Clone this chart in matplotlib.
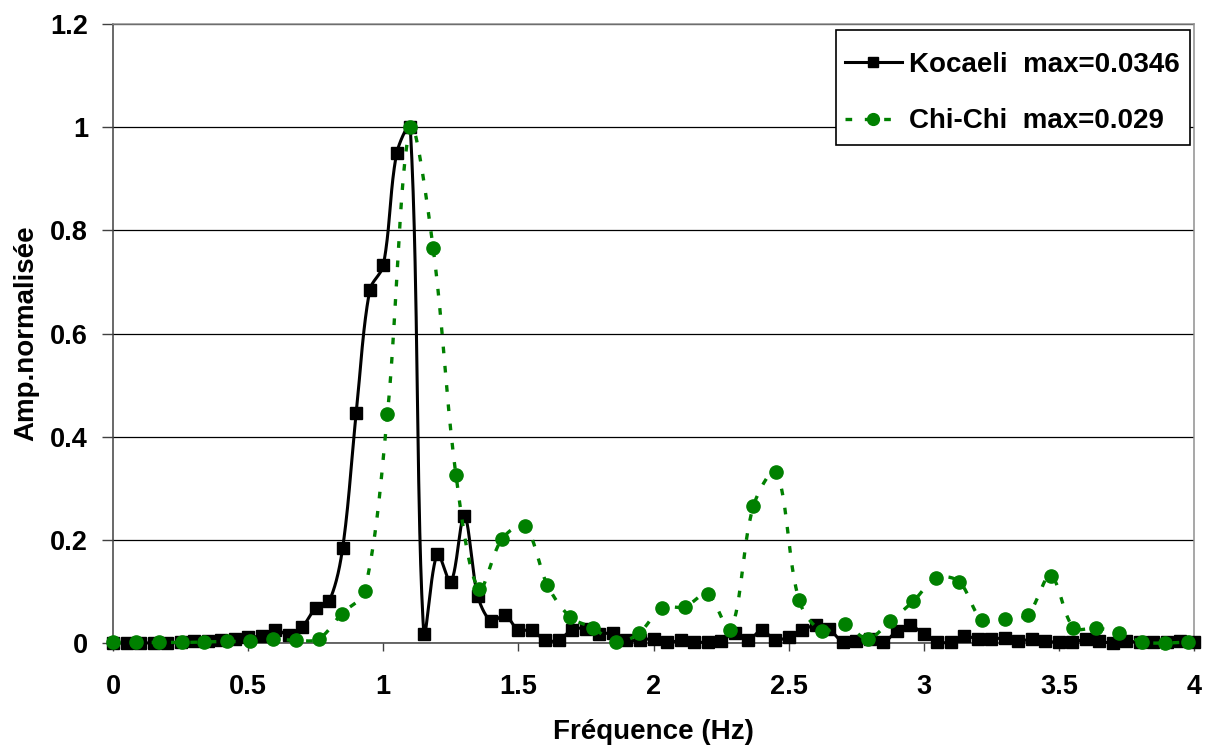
import numpy as np
import matplotlib
matplotlib.use("Agg")
import matplotlib.pyplot as plt
from matplotlib.patches import Rectangle

# ---- data ----
kocaeli_step = 0.05
kocaeli_amp = [0.0, 0.0, 0.0, 0.0, 0.0, 0.001, 0.004, 0.004, 0.006, 0.008,
               0.011, 0.014, 0.026, 0.016, 0.031, 0.068, 0.081, 0.185, 0.446, 0.684,
               0.732, 0.950, 1.0, 0.018, 0.173, 0.118, 0.246, 0.091, 0.042, 0.054,
               0.025, 0.025, 0.005, 0.006, 0.026, 0.028, 0.017, 0.020, 0.005, 0.006,
               0.008, 0.001, 0.005, 0.001, 0.002, 0.003, 0.020, 0.005, 0.025, 0.006,
               0.012, 0.025, 0.034, 0.027, 0.002, 0.004, 0.008, 0.001, 0.023, 0.034,
               0.017, 0.002, 0.002, 0.013, 0.008, 0.007, 0.010, 0.003, 0.008, 0.003,
               0.002, 0.002, 0.007, 0.003, 0.0, 0.003, 0.002, 0.002, 0.002, 0.003,
               0.002]
chichi_step = 1.1 / 13
chichi_amp = [0.001, 0.001, 0.001, 0.001, 0.002, 0.003, 0.003, 0.008, 0.005, 0.008,
              0.057, 0.100, 0.443, 1.0, 0.766, 0.325, 0.104, 0.201, 0.227, 0.112,
              0.050, 0.029, 0.001, 0.019, 0.068, 0.070, 0.095, 0.025, 0.265, 0.332,
              0.083, 0.023, 0.036, 0.008, 0.043, 0.081, 0.126, 0.119, 0.045, 0.046,
              0.055, 0.130, 0.030, 0.029, 0.020, 0.002, 0.0, 0.002]
kocaeli_freq = np.arange(len(kocaeli_amp)) * kocaeli_step
chichi_freq = np.arange(len(chichi_amp)) * chichi_step

labels = ["Kocaeli  max=0.0346", "Chi-Chi  max=0.029"]
xticks = [0, 0.5, 1, 1.5, 2, 2.5, 3, 3.5, 4]
yticks = [0, 0.2, 0.4, 0.6, 0.8, 1.0, 1.2]
ytick_labels = ["0", "0.2", "0.4", "0.6", "0.8", "1", "1.2"]
xtick_labels = ["0", "0.5", "1", "1.5", "2", "2.5", "3", "3.5", "4"]

FIG_W, FIG_H = 1209, 745
AX_L, AX_R, AX_T, AX_B = 113, 1194, 24, 643
XMAX, YMAX = 4.0, 1.2
SX = (AX_R - AX_L) / XMAX
SY = (AX_B - AX_T) / YMAX


def smooth(x, y, n=30):
    """Spreadsheet-style smoothed line (Bezier, tangents weighted by
    segment lengths measured on screen)."""
    P = np.column_stack([np.asarray(x, float) * SX, np.asarray(y, float) * SY])
    N = len(P)
    L = np.hypot(*(P[1:] - P[:-1]).T)
    out = []
    t = np.linspace(0, 1, n, endpoint=False)[:, None]
    for i in range(N - 1):
        p1, p2 = P[i], P[i + 1]
        p0 = P[i - 1] if i > 0 else p1
        p3 = P[i + 2] if i + 2 < N else p2
        l01 = L[i - 1] if i > 0 else 0.0
        l12 = L[i]
        l23 = L[i + 1] if i + 2 < N else 0.0
        r1 = l12 / (l01 + l12) if (l01 + l12) > 0 else 0.5
        r2 = l12 / (l12 + l23) if (l12 + l23) > 0 else 0.5
        c1 = p1 + (p2 - p0) * r1 / 3.0
        c2 = p2 - (p3 - p1) * r2 / 3.0
        b = ((1 - t) ** 3) * p1 + 3 * ((1 - t) ** 2) * t * c1 \
            + 3 * (1 - t) * t ** 2 * c2 + t ** 3 * p2
        out.append(b)
    out.append(P[-1][None, :])
    out = np.vstack(out)
    return out[:, 0] / SX, out[:, 1] / SY


plt.rcParams['font.family'] = ['Liberation Sans', 'DejaVu Sans']
plt.rcParams['font.weight'] = 'bold'

fig = plt.figure(figsize=(FIG_W / 100, FIG_H / 100), dpi=100)
ax = fig.add_axes([AX_L / FIG_W, (FIG_H - AX_B) / FIG_H,
                   (AX_R - AX_L) / FIG_W, (AX_B - AX_T) / FIG_H])

green = "#008000"
dots = (0, (2.0, 3.8))

kx, ky = smooth(kocaeli_freq, kocaeli_amp)
cx, cy = smooth(chichi_freq, chichi_amp)

ax.plot(kx, ky, color="black", lw=2.2, zorder=3, clip_on=False)
ax.plot(kocaeli_freq, kocaeli_amp, ls="none", marker="s", ms=8.5, color="black",
        zorder=4, clip_on=False)
ax.plot(cx, cy, color=green, lw=2.4, ls=dots, zorder=5, clip_on=False)
ax.plot(chichi_freq, chichi_amp, ls="none", marker="o", ms=9.5, color=green,
        zorder=6, clip_on=False)

# legend proxies
h1, = ax.plot([], [], color="black", lw=2.2, marker="s", ms=7.5)
h2, = ax.plot([], [], color=green, lw=2.4, ls=dots, marker="o", ms=8.5)

ax.set_xlim(0, XMAX)
ax.set_ylim(0, YMAX)
ax.set_xticks(xticks)
ax.set_xticklabels(xtick_labels)
ax.set_yticks(yticks)
ax.set_yticklabels(ytick_labels)
ax.tick_params(axis='x', direction='out', length=6, width=1, pad=16, labelsize=19.5,
               color="#404040")
ax.tick_params(axis='y', direction='out', length=8, width=1, pad=10, labelsize=19.5,
               color="#404040")
for lab in ax.get_xticklabels() + ax.get_yticklabels():
    lab.set_fontweight('bold')

ax.yaxis.grid(True, color="black", lw=0.9)
ax.set_axisbelow(True)
ax.spines['left'].set_color("#404040")
ax.spines['bottom'].set_color("#404040")
ax.spines['top'].set_color("#909090")
ax.spines['right'].set_color("#909090")
for s in ax.spines.values():
    s.set_linewidth(1.1)

ax.set_xlabel("Fréquence (Hz)", fontsize=20, fontweight='bold', labelpad=14)
ax.set_ylabel("Amp.normalisée", fontsize=20, fontweight='bold', labelpad=8)

# legend frame and legend
frame = Rectangle((836 / FIG_W, 1 - 145 / FIG_H), 354 / FIG_W, 115 / FIG_H,
                  transform=fig.transFigure, facecolor="white", edgecolor="black",
                  lw=1.2, zorder=10, clip_on=False)
ax.add_patch(frame)
leg = ax.legend([h1, h2], labels, loc='upper left',
                bbox_to_anchor=(845 / FIG_W, 1 - 52 / FIG_H),
                bbox_transform=fig.transFigure,
                prop={'size': 20, 'weight': 'bold'}, frameon=False,
                handlelength=2.05, handletextpad=0.25,
                labelspacing=1.09, borderpad=0.0, borderaxespad=0.0)
leg.set_zorder(11)

fig.savefig("out.png", dpi=100)
